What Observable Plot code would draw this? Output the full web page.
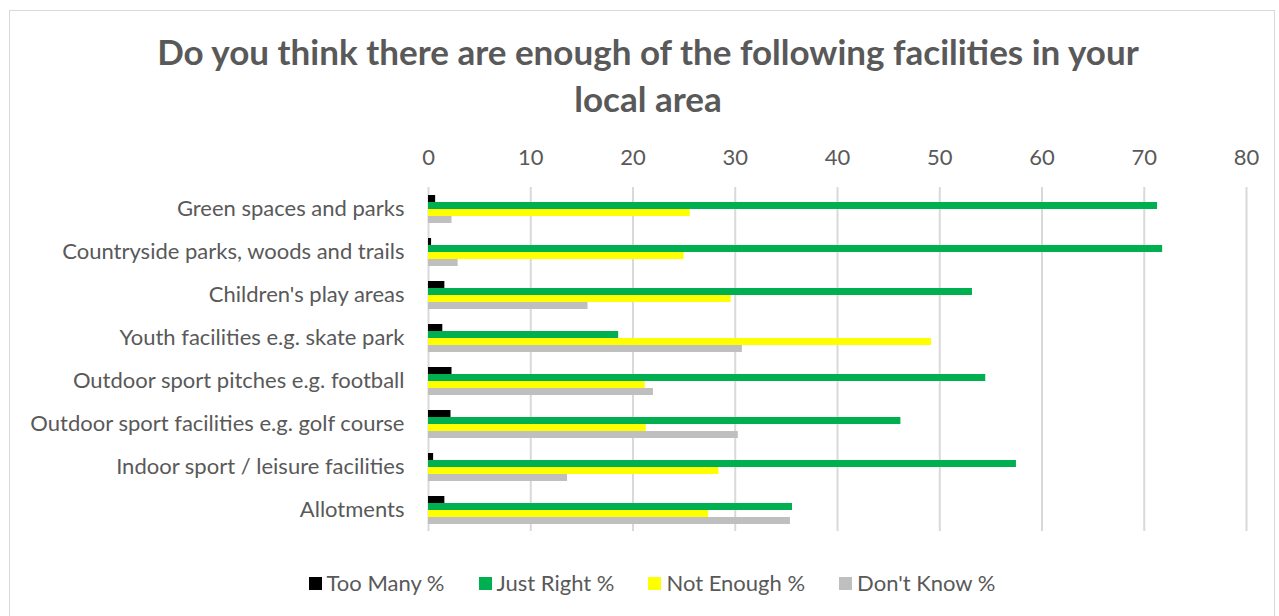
<!DOCTYPE html>
<html>
<head>
<meta charset="utf-8">
<script src="https://cdn.jsdelivr.net/npm/d3@7"></script>
<script src="https://cdn.jsdelivr.net/npm/@observablehq/plot@0.6"></script>
<style>
  html, body { margin: 0; padding: 0; background: #fff; }
  #wrap { position: relative; width: 1279px; height: 616px; overflow: hidden; font-family: Lato, "Liberation Sans", sans-serif; color: #595959; }
  #border { position: absolute; left: 9px; top: 10px; width: 1266px; height: 640px; border: 1px solid #d9d9d9; box-sizing: border-box; }
  #title { position: absolute; left: 0; width: 1296px; top: 28px; text-align: center; font-weight: bold; font-size: 35px; line-height: 47px; color: #595959; }
  #chart { position: absolute; left: 0; top: 130px; }
  #legend { position: absolute; left: 0; width: 1304px; top: 569px; display: flex; justify-content: center; gap: 34px; font-size: 22px; line-height: 28px; color: #595959; }
  .item { display: flex; align-items: center; }
  .sw { width: 13px; height: 13px; margin-right: 5px; }
</style>
</head>
<body>
<div id="wrap">
  <div id="border"></div>
  <div id="title">Do you think there are enough of the following facilities in your<br>local area</div>
  <div id="chart"></div>
  <div id="legend"></div>
</div>
<script>
const categories = [
  "Green spaces and parks",
  "Countryside parks, woods and trails",
  "Children's play areas",
  "Youth facilities e.g. skate park",
  "Outdoor sport pitches e.g. football",
  "Outdoor sport facilities e.g. golf course",
  "Indoor sport / leisure facilities",
  "Allotments"
];
const seriesNames = ["Too Many %", "Just Right %", "Not Enough %", "Don't Know %"];
const tooMany   = [0.7, 0.3, 1.6, 1.4, 2.3, 2.2, 0.5, 1.6];
const justRight = [71.3, 71.8, 53.2, 18.6, 54.5, 46.2, 57.5, 35.6];
const notEnough = [25.6, 25.0, 29.6, 49.2, 21.2, 21.3, 28.4, 27.4];
const dontKnow  = [2.3, 2.9, 15.6, 30.7, 22.0, 30.3, 13.6, 35.4];
const seriesColors = ["#000000", "#00B050", "#FFFF00", "#BFBFBF"];
const xTicks = [0, 10, 20, 30, 40, 50, 60, 70, 80];

const seriesValues = [tooMany, justRight, notEnough, dontKnow];
const data = categories.flatMap((c, i) =>
  seriesNames.map((s, j) => ({category: c, series: s, value: seriesValues[j][i]}))
);

const chart = Plot.plot({
  width: 1279,
  height: 411,
  marginLeft: 428,
  marginRight: 33,
  marginTop: 57,
  marginBottom: 10,
  style: {fontFamily: "Lato, 'Liberation Sans', sans-serif", fontSize: "22px", color: "#595959", background: "transparent"},
  x: {domain: [0, 80], ticks: xTicks, axis: "top", tickSize: 0, tickPadding: 23, label: null},
  y: {domain: seriesNames, axis: null, paddingInner: 0, paddingOuter: 0.85},
  fy: {domain: categories, axis: "left", tickSize: 0, tickPadding: 24, label: null, padding: 0},
  color: {domain: seriesNames, range: seriesColors},
  marks: [
    Plot.gridX(xTicks, {stroke: "#d9d9d9", strokeOpacity: 1, strokeWidth: 2}),
    Plot.barX(data, {x: "value", y: "series", fy: "category", fill: "series"})
  ]
});
document.getElementById("chart").appendChild(chart);

const legend = document.getElementById("legend");
seriesNames.forEach((s, j) => {
  const it = document.createElement("div");
  it.className = "item";
  const sw = document.createElement("div");
  sw.className = "sw";
  sw.style.background = seriesColors[j];
  const tx = document.createElement("span");
  tx.textContent = s;
  it.appendChild(sw);
  it.appendChild(tx);
  legend.appendChild(it);
});
</script>
</body>
</html>
